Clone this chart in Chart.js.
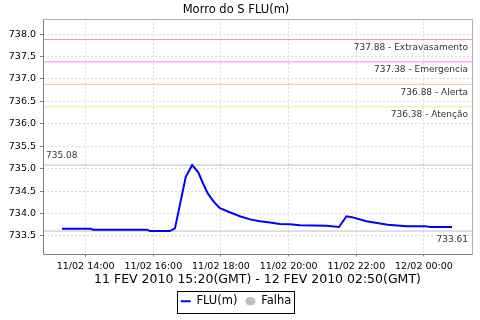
<!DOCTYPE html>
<html>
<head>
<meta charset="utf-8">
<script src="https://cdn.jsdelivr.net/npm/chart.js@4/dist/chart.umd.min.js"></script>
<style>
html,body{margin:0;padding:0;background:#fff;}
#wrap{width:480px;height:320px;}
</style>
</head>
<body>
<div id="wrap"><canvas id="c" width="480" height="320"></canvas></div>
<script>
// Hours since 11/02 00:00 (axis time) and water level FLU(m)
const fluHours = [13.30,14.15,14.22,15.82,15.90,16.49,16.64,16.96,17.15,17.33,17.47,17.61,17.79,17.97,18.26,18.56,18.86,19.15,19.45,19.74,20.04,20.33,21.12,21.49,21.71,21.87,22.30,22.93,23.49,24.03,24.18,24.83];
const fluValues = [733.66,733.66,733.64,733.64,733.61,733.61,733.67,734.82,735.08,734.92,734.67,734.45,734.26,734.12,734.03,733.94,733.87,733.83,733.80,733.77,733.76,733.74,733.73,733.70,733.94,733.92,733.83,733.75,733.72,733.72,733.70,733.70];

const markerValues = [737.88, 737.38, 736.88, 736.38];
const markerNames = ['Extravasamento', 'Emergencia', 'Alerta', 'Atenção'];
const markerColors = ['#ee9a9a', '#ff7fff', '#f5c394', '#f4ec98'];
const maxValue = 735.08;
const minValue = 733.61;

const xMin = 12.74, xMax = 25.42;
const yMin = 733.11, yMax = 738.34;
const tickHours = [14, 16, 18, 20, 22, 24];
const tickLabels = ['11/02 14:00', '11/02 16:00', '11/02 18:00', '11/02 20:00', '11/02 22:00', '12/02 00:00'];

const titleText = 'Morro do S FLU(m)';
const xTitle = '11 FEV 2010 15:20(GMT) - 12 FEV 2010 02:50(GMT)';

const FONT = "'DejaVu Sans', sans-serif";

function hLine(v, color, label) {
  return {
    label: label, data: [{x: xMin, y: v}, {x: xMax, y: v}],
    borderColor: color, borderWidth: 1, pointRadius: 0, inLegend: false, order: 5
  };
}

const datasets = [];
markerValues.forEach((v, i) => datasets.push(hLine(v, markerColors[i], markerNames[i])));
datasets.push(hLine(maxValue, '#c0c0c0', 'max'));
datasets.push(hLine(minValue, '#c0c0c0', 'min'));
datasets.push({
  label: 'FLU(m)',
  data: fluHours.map((h, i) => ({x: h, y: fluValues[i]})),
  borderColor: '#0000ff', backgroundColor: '#0000ff', borderWidth: 2,
  pointRadius: 0, tension: 0, inLegend: true, legendStyle: 'line', order: 1
});
datasets.push({
  label: 'Falha', data: [], borderColor: '#c0c0c0', backgroundColor: '#c0c0c0',
  pointRadius: 0, inLegend: true, legendStyle: 'circle'
});

const labelPlugin = {
  id: 'labels',
  afterDatasetsDraw(chart) {
    const {ctx, chartArea, scales} = chart;
    const y = scales.y;
    ctx.save();
    ctx.font = "9px " + FONT;
    ctx.fillStyle = '#333';
    ctx.textBaseline = 'middle';
    ctx.textAlign = 'right';
    markerValues.forEach((v, i) => {
      ctx.fillText(v.toFixed(2) + ' - ' + markerNames[i], chartArea.right - 4, y.getPixelForValue(v) + 8);
    });
    ctx.fillText(minValue.toFixed(2), chartArea.right - 4, y.getPixelForValue(minValue) + 9);
    ctx.textAlign = 'left';
    ctx.fillText(maxValue.toFixed(2), chartArea.left + 3, y.getPixelForValue(maxValue) - 9);
    // plot outline
    ctx.strokeStyle = '#b0b0b0';
    ctx.lineWidth = 1;
    ctx.beginPath();
    ctx.moveTo(Math.round(chartArea.left) + 0.5, Math.round(chartArea.top) + 0.5);
    ctx.lineTo(Math.round(chartArea.right) + 0.5, Math.round(chartArea.top) + 0.5);
    ctx.lineTo(Math.round(chartArea.right) + 0.5, Math.round(chartArea.bottom) + 0.5);
    ctx.stroke();
    ctx.strokeStyle = '#808080';
    ctx.beginPath();
    ctx.moveTo(Math.round(chartArea.left) + 0.5, Math.round(chartArea.top) + 0.5);
    ctx.lineTo(Math.round(chartArea.left) + 0.5, Math.round(chartArea.bottom) + 0.5);
    ctx.lineTo(Math.round(chartArea.right) + 0.5, Math.round(chartArea.bottom) + 0.5);
    ctx.stroke();
    ctx.restore();
  },
  afterDraw(chart) {
    const lg = chart.legend;
    if (!lg || !lg.legendHitBoxes || !lg.legendHitBoxes.length) return;
    const hb = lg.legendHitBoxes;
    let l = Infinity, r = -Infinity, t = Infinity, b = -Infinity;
    hb.forEach(h => { l = Math.min(l, h.left); r = Math.max(r, h.left + h.width); t = Math.min(t, h.top); b = Math.max(b, h.top + h.height); });
    const ctx = chart.ctx;
    ctx.save();
    ctx.strokeStyle = '#000';
    ctx.lineWidth = 1;
    ctx.strokeRect(Math.round(l - 4) + 0.5, Math.round(t - 5) + 0.5, Math.round(r - l + 6), Math.round(b - t + 10));
    ctx.restore();
  }
};

new Chart(document.getElementById('c'), {
  type: 'line',
  data: {datasets: datasets},
  plugins: [labelPlugin],
  options: {
    responsive: false,
    animation: false,
    layout: {padding: {left: 0, right: 8, top: 0, bottom: 3}},
    plugins: {
      title: {
        display: true, text: titleText, color: '#000',
        font: {family: FONT, size: 11.5, weight: 'normal'},
        padding: {top: 3, bottom: 2}
      },
      legend: {
        display: true, position: 'bottom',
        labels: {
          usePointStyle: true, pointStyleWidth: 10, boxHeight: 6, padding: 8,
          color: '#000', font: {family: FONT, size: 11.5},
          generateLabels(chart) {
            return chart.data.datasets.map((ds, i) => ({ds, i})).filter(o => o.ds.inLegend).map(o => ({
              text: o.ds.label, datasetIndex: o.i,
              fillStyle: o.ds.backgroundColor, strokeStyle: o.ds.borderColor,
              lineWidth: o.ds.legendStyle === 'line' ? 2 : 0,
              pointStyle: o.ds.legendStyle, hidden: false, fontColor: '#000'
            }));
          }
        }
      },
      tooltip: {enabled: false}
    },
    scales: {
      x: {
        type: 'linear', min: xMin, max: xMax,
        afterFit(scale) { scale.height = 34; },
        afterBuildTicks(scale) { scale.ticks = tickHours.map(h => ({value: h})); },
        ticks: {
          autoSkip: false, maxRotation: 0, padding: 4, color: '#000',
          font: {family: FONT, size: 9.5},
          callback(v) { const i = tickHours.indexOf(v); return i >= 0 ? tickLabels[i] : ''; }
        },
        grid: {color: '#d8d8d8', lineWidth: 1, drawTicks: true, tickLength: 3, tickColor: '#808080', tickBorderDash: [], borderDash: [2, 2]},
        border: {display: false, dash: [2, 2]},
        title: {display: true, text: xTitle, color: '#000', font: {family: FONT, size: 12.5}, padding: {top: 0, bottom: 0}}
      },
      y: {
        type: 'linear', min: yMin, max: yMax,
        afterFit(scale) { scale.width = 43; },
        ticks: {
          stepSize: 0.5, includeBounds: false, padding: 4, color: '#000',
          font: {family: FONT, size: 9.5},
          callback(v) { return Number(v).toFixed(1); }
        },
        grid: {color: '#d8d8d8', lineWidth: 1, drawTicks: true, tickLength: 3, tickColor: '#808080', tickBorderDash: [], borderDash: [2, 2]},
        border: {display: false, dash: [2, 2]}
      }
    }
  }
});
</script>
</body>
</html>
